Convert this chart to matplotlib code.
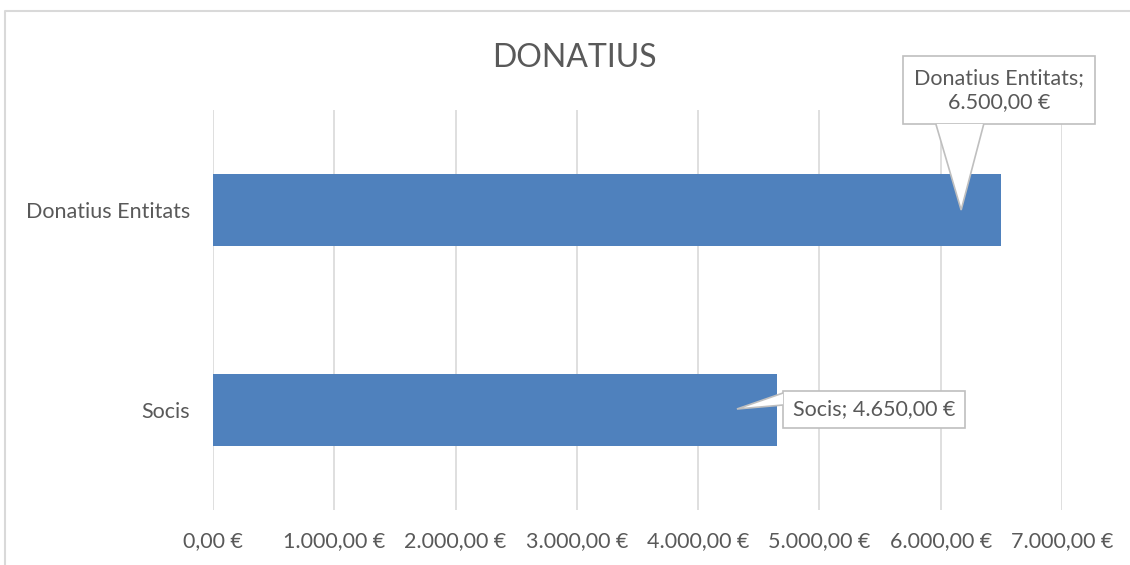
import matplotlib
matplotlib.use("Agg")
import matplotlib.pyplot as plt
from matplotlib.patches import Polygon
import numpy as np

# data
categories = ["Socis", "Donatius Entitats"]
values = [4650, 6500]
tick_values = [0, 1000, 2000, 3000, 4000, 5000, 6000, 7000]
title = "DONATIUS"

BAR_COLOR = "#4f81bd"
GRID_COLOR = "#d9d9d9"
TEXT_COLOR = "#595959"
FONT = ["Lato", "DejaVu Sans"]


def euro(v):
    s = f"{v:,.2f}"
    s = s.replace(",", "X").replace(".", ",").replace("X", ".")
    return f"{s} €"


plt.rcParams["font.family"] = FONT

fig = plt.figure(figsize=(11.3, 5.65), dpi=100)
ax = fig.add_axes([213 / 1130, 1 - 510 / 565, (1062 - 213) / 1130, 400 / 565])

y = np.arange(len(categories))
ax.barh(y, values, height=0.36, color=BAR_COLOR, zorder=2)

ax.set_xlim(0, 7000)
ax.set_ylim(-0.5, 1.5)
ax.set_xticks(tick_values)
ax.set_xticklabels([euro(v) for v in tick_values], fontsize=15.5, color=TEXT_COLOR)
ax.set_yticks(y)
ax.set_yticklabels(categories, fontsize=15.5, color=TEXT_COLOR)
ax.tick_params(axis="x", length=0, pad=15)
ax.tick_params(axis="y", length=0, pad=16.5)
ax.xaxis.grid(True, color=GRID_COLOR, linewidth=1.2, zorder=0)
ax.set_axisbelow(True)
for sp in ax.spines.values():
    sp.set_visible(False)

fig.text(574 / 1130, 1 - 58 / 565, title, ha="center", va="center",
         fontsize=23, color=TEXT_COLOR)

# outer chart frame (left and top edges visible in the crop)
fig.add_artist(plt.Line2D([5 / 1130, 5 / 1130, 1.0], [0.0, 1 - 11 / 565, 1 - 11 / 565],
                          transform=fig.transFigure, color=GRID_COLOR, linewidth=1.5))


def callout(box, wedge, tip, text, fontsize):
    # box: (x0, y0, x1, y1) data; wedge: two base points; tip: pointer end
    x0, y0, x1, y1 = box
    ax.add_patch(Polygon([(x0, y0), (x1, y0), (x1, y1), (x0, y1)], closed=True,
                         facecolor="white", edgecolor="#bfbfbf", linewidth=1.2,
                         clip_on=False, zorder=4))
    # white fill hides the box edge between the wedge base points
    ax.add_patch(Polygon([wedge[0], tip, wedge[1]], closed=True, facecolor="white",
                         edgecolor="none", clip_on=False, zorder=5))
    ax.add_patch(Polygon([wedge[0], tip, wedge[1]], closed=False, fill=False,
                         edgecolor="#bfbfbf", linewidth=1.2, clip_on=False, zorder=5))
    ax.text((x0 + x1) / 2, (y0 + y1) / 2, text, ha="center", va="center",
            fontsize=fontsize, color=TEXT_COLOR, zorder=6, linespacing=1.25)


# Donatius Entitats label: box above-right, pointer down into bar
v, c = values[1], y[1]
callout(box=(v - 812, c + 0.43, v + 771, c + 0.77),
        wedge=[(v - 540, c + 0.43), (v - 145, c + 0.43)],
        tip=(v * 0.949, c),
        text=f"{categories[1]};\n{euro(v)}", fontsize=15.5)

# Socis label: box to the right, pointer left into bar
v, c = values[0], y[0]
callout(box=(v + 50, c - 0.09, v + 1550, c + 0.095),
        wedge=[(v + 50, c + 0.085), (v + 50, c + 0.025)],
        tip=(v - 330, c + 0.005),
        text=f"{categories[0]}; {euro(v)}", fontsize=15.5)

fig.savefig("out.png", dpi=100, facecolor="white")
